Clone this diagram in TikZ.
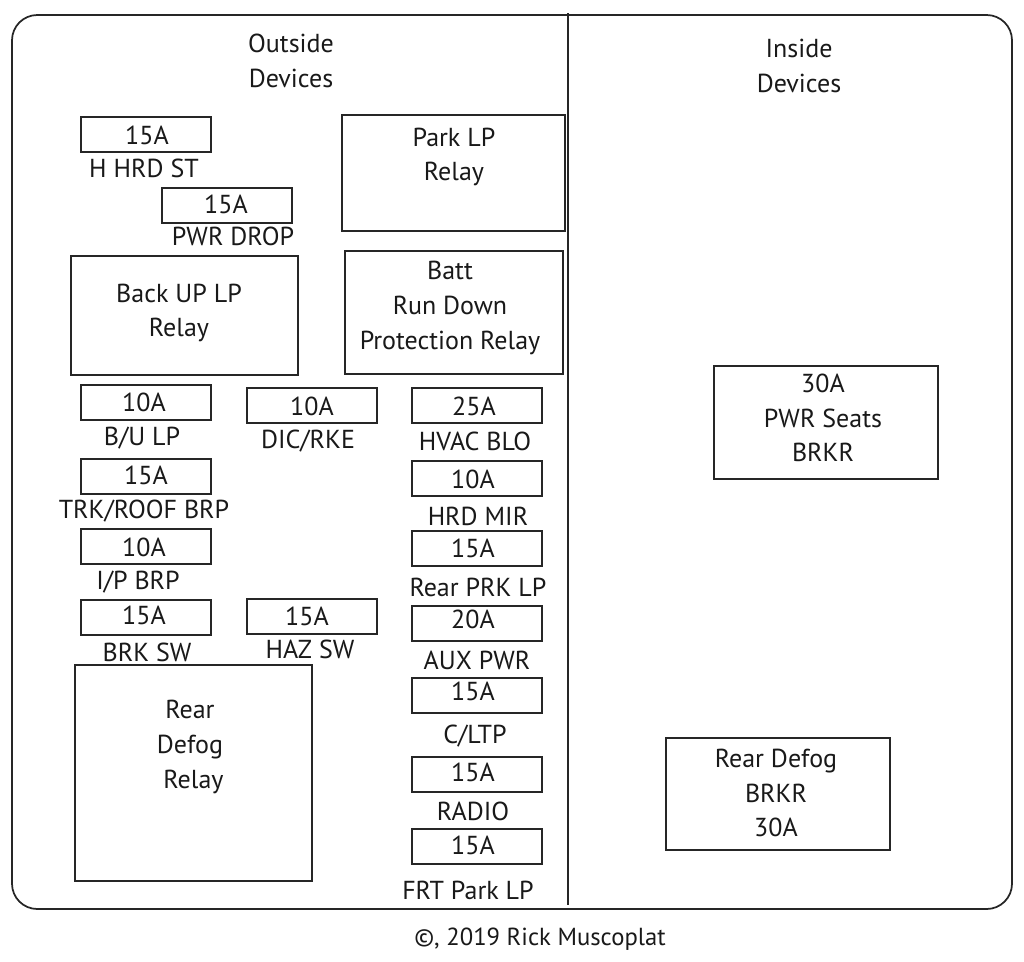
\documentclass[tikz,border=0pt]{standalone}
\usepackage{fontspec}
\setmainfont{PT Sans}
\newcommand{\bx}[5]{%
  \pgfmathsetmacro{\cxv}{(#2+#4)/2}\pgfmathsetmacro{\cyv}{(#3+#5)/2}%
  \pgfmathsetmacro{\wv}{(#4-#2)*0.75}\pgfmathsetmacro{\hv}{(#5-#3)*0.75}%
  \node[boxs,minimum width=\wv pt,minimum height=\hv pt] (#1) at (\cxv,\cyv) {};}
\tikzset{
  x=0.75pt,y=-0.75pt,
  boxs/.style={draw=black!85,line width=1.3pt,inner sep=0pt,outer sep=0pt},
  txt/.style={inner sep=0pt,outer sep=0pt,text=black!90,align=center,font=\fontsize{19.5}{26}\selectfont},
  small/.style={txt,font=\fontsize{17.5}{24}\selectfont}
}
\begin{document}
\begin{tikzpicture}
\useasboundingbox (0,0) rectangle (1024,961);
\fill[white] (0,0) rectangle (1024,961);
\node[draw=black!85,line width=1.3pt,rounded corners=19pt,minimum width=750pt,minimum height=670.5pt,inner sep=0pt,outer sep=0pt] (frame) at (512,462) {};
\coordinate (dtop) at (568,13);
\coordinate (dbot) at (568,905);
\draw[black!85,line width=1.5pt] (dtop) -- (dbot);
\node[txt] (t1) at (291,61) {Outside\\Devices};
\node[txt] (t2) at (799,66) {Inside\\Devices};
\bx{f1}{81}{117}{211}{152}\node[txt] (a1) at (147,135) {15A};
\node[txt] (l1) at (144,168) {H HRD ST};
\bx{f2}{162}{188}{292}{223}\node[txt] (a2) at (226,204) {15A};
\node[txt] (l2) at (233,236) {PWR DROP};
\bx{r1}{342}{115}{565}{231}\node[txt] (rt1) at (454,157) {Park LP\\Relay};
\bx{r2}{71}{256}{298}{375}\node[txt] (rt2) at (179,313) {Back UP LP\\Relay};
\bx{r3}{345}{251}{563}{374}\node[txt] (rt3) at (450,308) {Batt\\Run Down\\Protection Relay};
\bx{f3}{81}{385}{211}{420}\node[txt] (a3) at (144,402) {10A};
\node[txt] (l3) at (142,438) {B/U LP};
\bx{f4}{247}{388}{377}{423}\node[txt] (a4) at (312,406) {10A};
\node[txt] (l4) at (308,441) {DIC/RKE};
\bx{f5}{412}{388}{542}{423}\node[txt] (a5) at (474,406) {25A};
\node[txt] (l5) at (475,441) {HVAC BLO};
\bx{f6}{81}{459}{211}{494}\node[txt] (a6) at (146,475) {15A};
\node[txt] (l6) at (144,511) {TRK/ROOF BRP};
\bx{f7}{412}{461}{542}{496}\node[txt] (a7) at (473,479) {10A};
\node[txt] (l7) at (478,516) {HRD MIR};
\bx{f8}{81}{529}{211}{564}\node[txt] (a8) at (144,547) {10A};
\node[txt] (l8) at (138,582) {I/P BRP};
\bx{f9}{412}{531}{542}{566}\node[txt] (a9) at (473,548) {15A};
\node[txt] (l9) at (478,587) {Rear PRK LP};
\bx{f10}{81}{600}{211}{635}\node[txt] (a10) at (144,615) {15A};
\node[txt] (l10) at (147,652) {BRK SW};
\bx{f11}{247}{599}{377}{634}\node[txt] (a11) at (307,616) {15A};
\node[txt] (l11) at (310,649) {HAZ SW};
\bx{f12}{412}{606}{542}{641}\node[txt] (a12) at (473,619) {20A};
\node[txt] (l12) at (477,660) {AUX PWR};
\bx{f13}{412}{678}{542}{713}\node[txt] (a13) at (473,691) {15A};
\node[txt] (l13) at (475,736) {C/LTP};
\bx{f14}{412}{757}{542}{792}\node[txt] (a14) at (473,772) {15A};
\node[txt] (l14) at (473,811) {RADIO};
\bx{f15}{412}{829}{542}{864}\node[txt] (a15) at (473,845) {15A};
\node[txt] (l15) at (468,890) {FRT Park LP};
\bx{r4}{75}{665}{312}{881}\node[txt] (rt4) at (190,747) {Rear\\Defog\\\ Relay};
\bx{r5}{714}{366}{938}{479}\node[txt] (rt5) at (823,418) {30A\\PWR Seats\\BRKR};
\bx{r6}{666}{738}{890}{850}\node[txt] (rt6) at (776,793) {Rear Defog\\BRKR\\30A};
\node[txt,font=\fontsize{18.5}{24}\selectfont] (copy) at (540,939) {©, 2019 Rick Muscoplat};
\end{tikzpicture}
\end{document}
